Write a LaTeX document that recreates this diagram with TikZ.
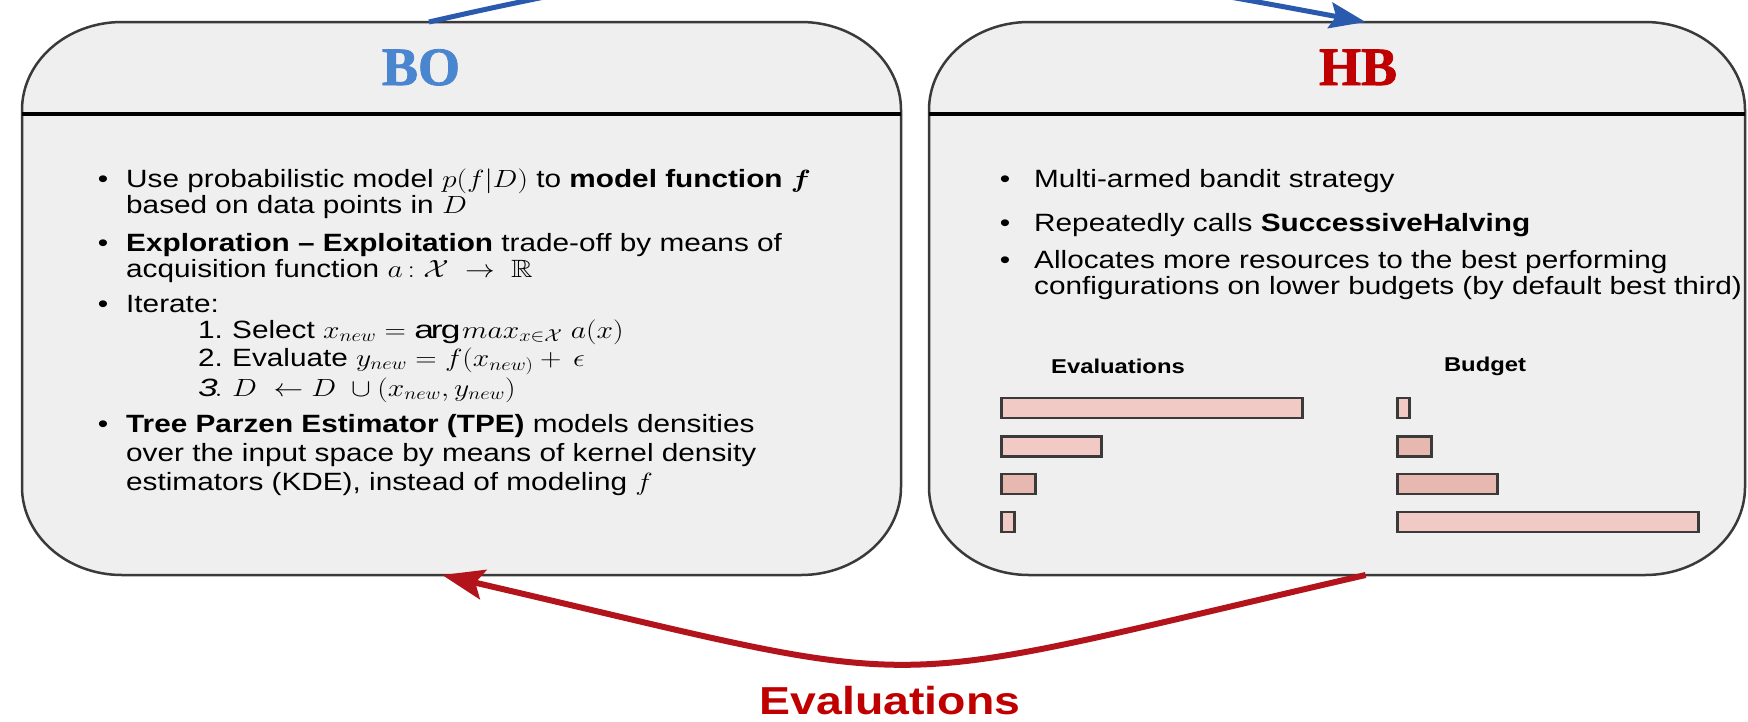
\documentclass[tikz,border=0pt]{standalone}
\usepackage{amsmath,amssymb,bm}
\usepackage{fontspec}
\setmainfont{Liberation Sans}[FakeStretch=1.19]
\newfontfamily\titlefont{Liberation Serif}[BoldFeatures={FakeBold=1.5}]
\usetikzlibrary{arrows.meta,calc}

\definecolor{boblue}{HTML}{4A86D0}
\definecolor{hbred}{HTML}{C00000}
\definecolor{boxfill}{HTML}{EFEFEF}
\definecolor{boxline}{HTML}{3A3A3A}
\definecolor{arrowblue}{HTML}{2A5AAE}
\definecolor{arrowred}{HTML}{B3141C}
\definecolor{barfill}{HTML}{F1CAC5}
\definecolor{barfilldark}{HTML}{E7B8B0}

% math set in the same horizontally widened proportions as the text
\newcommand{\mth}[1]{\scalebox{1.19}[1]{$#1$}}
\newcommand{\bodyfont}{\fontsize{25}{29}\selectfont}

% panel outline with elliptical corners around a named frame node
\newcommand{\cornerx}{100pt}
\newcommand{\cornery}{88pt}
\newcommand{\panelframe}[1]{%
  \filldraw[panelline]
    ($(#1.north west)+(\cornerx,0)$) -- ($(#1.north east)+(-\cornerx,0)$)
    arc[start angle=90, end angle=0, x radius=\cornerx, y radius=\cornery]
    -- ($(#1.south east)+(0,\cornery)$)
    arc[start angle=0, end angle=-90, x radius=\cornerx, y radius=\cornery]
    -- ($(#1.south west)+(\cornerx,0)$)
    arc[start angle=270, end angle=180, x radius=\cornerx, y radius=\cornery]
    -- ($(#1.north west)+(0,-\cornery)$)
    arc[start angle=180, end angle=90, x radius=\cornerx, y radius=\cornery]
    -- cycle;}

\tikzset{
  panel/.style={inner sep=0pt, outer sep=0pt, minimum height=553pt},
  panelline/.style={draw=boxline, line width=2.5pt, fill=boxfill},
  divider/.style={line width=4pt, black},
  paneltitle/.style={font=\titlefont\fontsize{54}{54}\selectfont\bfseries,
    inner sep=0pt, anchor=base},
  bulletmark/.style={font=\bodyfont, inner sep=0pt, anchor=base},
  line/.style={font=\bodyfont, inner sep=0pt, anchor=base west},
  barlabel/.style={font=\fontsize{20}{24}\selectfont\bfseries, inner sep=0pt, anchor=base},
  bar/.style={draw=boxline, line width=2.5pt, fill=barfill, inner sep=0pt,
    minimum height=20pt, anchor=west},
  bluearrow/.style={draw=arrowblue, line width=5pt,
    -{Stealth[length=36pt, width=26pt, inset=6pt, fill=arrowblue]}},
  redarrow/.style={draw=arrowred, line width=6pt,
    -{Stealth[length=42pt, width=30pt, inset=8pt, fill=arrowred]}},
}

\begin{document}
\begin{tikzpicture}[x=1pt, y=1pt]
\path[use as bounding box, fill=white] (0,0) rectangle (1748,-721);

% two panels
\node[panel, minimum width=879pt] (bo) at (461.5,-298.5) {};
\node[panel, minimum width=816pt] (hb) at (1337,-298.5) {};
\panelframe{bo}
\panelframe{hb}

\draw[divider] ($(bo.north west)+(0,-92)$) -- ($(bo.north east)+(0,-92)$);
\draw[divider] ($(hb.north west)+(0,-92)$) -- ($(hb.north east)+(0,-92)$);

\node[paneltitle, text=boblue] (botitle) at (421,-85) {BO};
\node[paneltitle, text=hbred] (hbtitle) at (1358,-85) {HB};

% BO panel text
\node[bulletmark] (bob1) at (103,-187) {\textbullet};
\node[line] (bol1) at (126,-187) {Use probabilistic model \mth{p(f|D)} to \textbf{model function} \mth{\bm{f}}};
\node[line] (bol2) at (126,-213) {based on data points in \mth{D}};
\node[bulletmark] (bob2) at (103,-251) {\textbullet};
\node[line] (bol3) at (126,-251) {\textbf{Exploration -- Exploitation} trade-off by means of};
\node[line] (bol4) at (126,-277) {acquisition function \mth{a\,{:}\;\mathcal{X}\;\rightarrow\;\mathbb{R}}};
\node[bulletmark] (bob3) at (103,-312) {\textbullet};
\node[line] (bol5) at (126,-312) {Iterate:};
\node[line] (bon1) at (198,-338) {1.};
\node[line] (bol6) at (232,-338) {Select \mth{x_{new} = \arg max_{x\in\mathcal{X}}\; a(x)}};
\node[line] (bon2) at (198,-366) {2.};
\node[line] (bol7) at (232,-366) {Evaluate \mth{y_{new} = f(x_{new)} + \,\epsilon}};
\node[line] (bon3) at (198,-396) {\mth{\mathit{3.}}};
\node[line] (bol8) at (232,-396) {\mth{D\;\leftarrow D\;\cup (x_{new}, y_{new})}};
\node[bulletmark] (bob4) at (103,-432) {\textbullet};
\node[line] (bol9) at (126,-432) {\textbf{Tree Parzen Estimator (TPE)} models densities};
\node[line] (bol10) at (126,-461) {over the input space by means of kernel density};
\node[line] (bol11) at (126,-490) {estimators (KDE), instead of modeling \mth{f}};

% HB panel text
\node[bulletmark] (hbb1) at (1005,-187) {\textbullet};
\node[line] (hbl1) at (1034,-187) {Multi-armed bandit strategy};
\node[bulletmark] (hbb2) at (1005,-231) {\textbullet};
\node[line] (hbl2) at (1034,-231) {Repeatedly calls \textbf{SuccessiveHalving}};
\node[bulletmark] (hbb3) at (1005,-268) {\textbullet};
\node[line] (hbl3) at (1034,-268) {Allocates more resources to the best performing};
\node[line] (hbl4) at (1034,-294) {configurations on lower budgets (by default best third)};

% bar sketch: evaluations shrink while budget grows
\node[barlabel] (evalhead) at (1118,-373) {Evaluations};
\node[barlabel] (budgethead) at (1485,-371) {Budget};
\node[bar, minimum width=301pt] (ev1) at (1000,-408) {};
\node[bar, minimum width=100pt] (ev2) at (1000,-446.5) {};
\node[bar, minimum width=34pt, fill=barfilldark] (ev3) at (1000,-484) {};
\node[bar, minimum width=13pt] (ev4) at (1000,-522) {};
\node[bar, minimum width=12pt] (bu1) at (1396,-408) {};
\node[bar, minimum width=34pt, fill=barfilldark] (bu2) at (1396,-446.5) {};
\node[bar, minimum width=100pt, fill=barfilldark] (bu3) at (1396,-484) {};
\node[bar, minimum width=301pt] (bu4) at (1396,-522) {};

% connectors between the panels
\coordinate (boout) at ($(bo.north west)!0.463!(bo.north east)$);
\coordinate (hbin) at ($(hb.north west)!0.535!(hb.north east)$);
\coordinate (hbout) at ($(hb.south west)!0.535!(hb.south east)$);
\coordinate (boin) at ($(bo.south west)!0.478!(bo.south east)$);

\draw[bluearrow] (boout) .. controls +(400,92) and +(-400,75) .. (hbin);
\draw[redarrow] (hbout) .. controls +(-513,-118) and +(513,-119) .. (boin);

\node[font=\fontsize{39}{39}\selectfont\bfseries, text=hbred, inner sep=0pt, anchor=base]
  (evallabel) at (890,-714) {Evaluations};
\end{tikzpicture}
\end{document}
